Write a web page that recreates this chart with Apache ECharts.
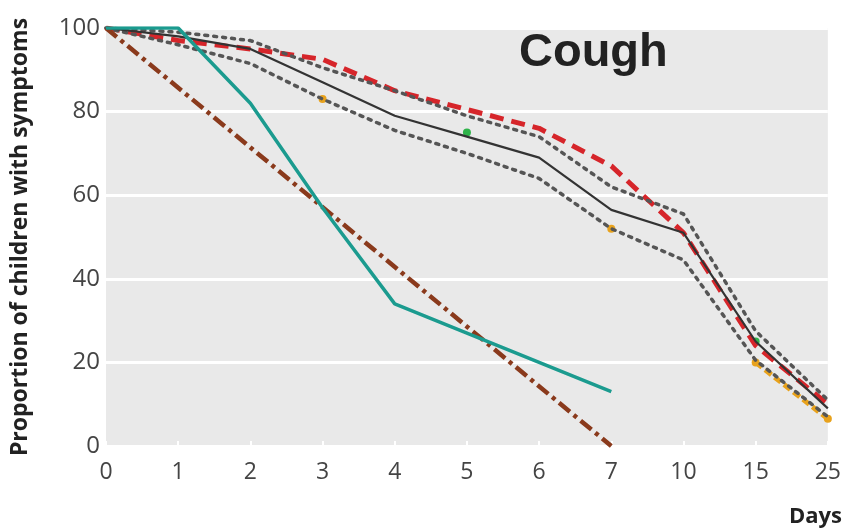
<!DOCTYPE html>
<html>
<head>
<meta charset="utf-8">
<title>Cough</title>
<script src="https://cdn.jsdelivr.net/npm/echarts@6/dist/echarts.min.js"></script>
<style>
  html, body { margin: 0; padding: 0; background: #fff; }
  #chart { width: 844px; height: 532px; }
</style>
</head>
<body>
<div id="chart"></div>
<script>
// days after start (categorical, evenly spaced on the picture)
var days = ['0', '1', '2', '3', '4', '5', '6', '7', '10', '15', '25'];
var yTicks = [0, 20, 40, 60, 80, 100];

// values (%)
var teal = [100, 100, 82, 57, 34, 27, 20, 13, null, null, null];
var brownStraight = [100, null, null, null, null, null, null, 0, null, null, null];
var median = [100, 98, 95, 87, 79, 74, 69, 56.5, 51, 25, 9];
var redDashed = [100, 97, 95, 92.5, 85, 80.5, 76, 67, 51, 24, 10];
var upperCI = [100, 99, 97, 90.5, 85, 79, 74, 62, 55.5, 27.5, 11];
var lowerCI = [100, 96, 91.5, 83, 75.5, 70, 64, 52, 44.5, 20.5, 7];
var orangeBits = [null, null, null, 83, null, null, null, 52, null, 20, 6.5];
var greenBits = [null, null, null, null, null, 75, null, null, null, 25, null];

var FONT = 'Open Sans';

var chart = echarts.init(document.getElementById('chart'));

var option = {
  animation: false,
  backgroundColor: '#fff',
  title: [
    {
      text: 'Cough',
      left: 514,
      top: 25,
      textStyle: { fontFamily: 'Liberation Sans', fontWeight: 'bold', fontSize: 47, color: '#222' }
    },
    {
      text: 'Days',
      left: 784,
      top: 501,
      textStyle: { fontFamily: FONT, fontWeight: 'bold', fontSize: 22, color: '#222' }
    }
  ],
  grid: {
    left: 106,
    right: 11,
    top: 28,
    bottom: 86,
    show: true,
    backgroundColor: '#e9e9e9',
    borderWidth: 0
  },
  xAxis: {
    type: 'category',
    data: days,
    boundaryGap: false,
    axisLine: { show: false },
    axisTick: { show: true, inside: true, length: 5, lineStyle: { color: '#fff', width: 2 } },
    axisLabel: { fontFamily: FONT, fontSize: 23, color: '#444', margin: 15 },
    splitLine: { show: false }
  },
  yAxis: {
    type: 'value',
    min: yTicks[0],
    max: yTicks[yTicks.length - 1],
    interval: 20,
    name: 'Proportion of children with symptoms',
    nameLocation: 'middle',
    nameGap: 74,
    nameTextStyle: { fontFamily: FONT, fontWeight: 'bold', fontSize: 23, color: '#222' },
    axisLine: { show: false },
    axisTick: { show: false },
    axisLabel: { fontFamily: FONT, fontSize: 24, color: '#444', margin: 6 },
    splitLine: { show: true, lineStyle: { color: '#fff', width: 3 } }
  },
  series: [
    {
      name: 'orange',
      type: 'line',
      data: orangeBits,
      z: 2,
      symbol: 'circle',
      symbolSize: 8,
      itemStyle: { color: '#e8a21c' },
      lineStyle: { color: '#e8a21c', width: 5, type: [8, 4] }
    },
    {
      name: 'green',
      type: 'line',
      data: greenBits,
      z: 2,
      symbol: 'circle',
      symbolSize: 8,
      itemStyle: { color: '#2fb34a' },
      lineStyle: { width: 0 }
    },
    {
      name: 'red',
      type: 'line',
      data: redDashed,
      z: 3,
      showSymbol: false,
      lineStyle: { color: '#d6252a', width: 5, type: [14, 8] }
    },
    {
      name: 'upper',
      type: 'line',
      data: upperCI,
      z: 4,
      showSymbol: false,
      lineStyle: { color: '#555', width: 3.5, type: [3, 6], cap: 'round' }
    },
    {
      name: 'lower',
      type: 'line',
      data: lowerCI,
      z: 4,
      showSymbol: false,
      lineStyle: { color: '#555', width: 3.5, type: [3, 6], cap: 'round' }
    },
    {
      name: 'median',
      type: 'line',
      data: median,
      z: 4,
      showSymbol: false,
      lineStyle: { color: '#333', width: 2.2 }
    },
    {
      name: 'straight',
      type: 'line',
      data: brownStraight,
      connectNulls: true,
      z: 5,
      showSymbol: false,
      lineStyle: { color: '#8a3a1c', width: 4.5, type: [14, 5, 4, 5] }
    },
    {
      name: 'teal',
      type: 'line',
      data: teal,
      z: 5,
      showSymbol: false,
      lineStyle: { color: '#1b9b8f', width: 3.5 }
    }
  ]
};

chart.setOption(option);
</script>
</body>
</html>
